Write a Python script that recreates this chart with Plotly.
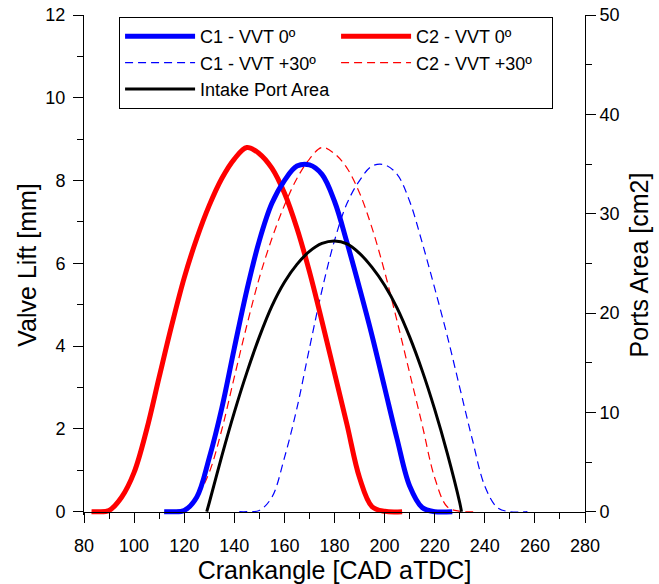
import plotly.graph_objects as go

# Crank angle [CAD aTDC] and valve lift [mm] for each cam / VVT setting
cad_c1_0 = [112, 115, 120, 125, 130, 135, 140, 145, 150, 155, 160, 165, 170, 175,
            180, 185, 190, 195, 200, 205, 210, 215, 220, 227]
lift_c1_0 = [0, 0, 0.03, 0.35, 1.3, 2.5, 3.95, 5.35, 6.55, 7.45, 8.0, 8.35, 8.38, 8.15,
             7.5, 6.5, 5.4, 4.25, 3.0, 1.75, 0.62, 0.1, 0, 0]

cad_c2_0 = [83, 85, 90, 95, 100, 105, 110, 115, 120, 125, 130, 135, 140, 145, 150,
            155, 160, 165, 170, 175, 180, 185, 190, 195, 200, 207]
lift_c2_0 = [0, 0, 0.03, 0.35, 0.95, 1.98, 3.25, 4.5, 5.65, 6.6, 7.4, 8.05, 8.52, 8.8, 8.65,
             8.3, 7.7, 6.85, 5.8, 4.6, 3.35, 2.1, 0.82, 0.12, 0.01, 0]

cad_c1_30 = [142, 145, 150, 155, 160, 165, 170, 175, 180, 185, 190, 195, 200, 205,
             210, 215, 220, 225, 230, 235, 240, 245, 250, 257]
lift_c1_30 = [0, 0, 0.03, 0.35, 1.3, 2.5, 3.95, 5.35, 6.55, 7.45, 8.0, 8.35, 8.38, 8.15,
              7.5, 6.5, 5.4, 4.25, 3.0, 1.75, 0.62, 0.1, 0, 0]

cad_c2_30 = [113, 115, 120, 125, 130, 135, 140, 145, 150, 155, 160, 165, 170, 175, 180,
             185, 190, 195, 200, 205, 210, 215, 220, 225, 230, 237]
lift_c2_30 = [0, 0, 0.03, 0.35, 0.95, 1.98, 3.25, 4.5, 5.65, 6.6, 7.4, 8.05, 8.52, 8.8, 8.65,
              8.3, 7.7, 6.85, 5.8, 4.6, 3.35, 2.1, 0.82, 0.12, 0.01, 0]

# Intake port open area [cm2]
cad_port = [129, 130, 135, 140, 145, 150, 155, 160, 165, 170, 175, 180, 185, 190, 195,
            200, 205, 210, 215, 220, 225, 230, 230.7]
area_port = [0, 0.9, 5.6, 10.0, 14.0, 17.6, 20.7, 23.1, 24.9, 26.2, 27.0, 27.25, 26.95, 26.0, 24.6,
             22.8, 20.5, 17.6, 14.2, 10.3, 5.9, 0.9, 0]

FONT = "Liberation Sans, Arial, sans-serif"
Y_PAD = 0.08  # small gap below zero so thick lines resting on 0 are not clipped
LIFT_MAX, AREA_MAX = 12, 50
SMOOTH = 1.0

fig = go.Figure()
fig.add_trace(go.Scatter(x=cad_port, y=area_port, yaxis="y2", mode="lines",
                         name="Intake Port Area", legendrank=5,
                         line=dict(color="black", width=3, shape="spline", smoothing=SMOOTH)))
fig.add_trace(go.Scatter(x=cad_c2_30, y=lift_c2_30, mode="lines", name="C2 - VVT +30º",
                         legendrank=4,
                         line=dict(color="#ff0000", width=1.2, dash="8px,5px",
                                   shape="spline", smoothing=SMOOTH)))
fig.add_trace(go.Scatter(x=cad_c1_30, y=lift_c1_30, mode="lines", name="C1 - VVT +30º",
                         legendrank=3,
                         line=dict(color="#0000ff", width=1.2, dash="8px,5px",
                                   shape="spline", smoothing=SMOOTH)))
fig.add_trace(go.Scatter(x=cad_c2_0, y=lift_c2_0, mode="lines", name="C2 - VVT 0º",
                         legendrank=2,
                         line=dict(color="#ff0000", width=5, shape="spline", smoothing=SMOOTH)))
fig.add_trace(go.Scatter(x=cad_c1_0, y=lift_c1_0, mode="lines", name="C1 - VVT 0º",
                         legendrank=1,
                         line=dict(color="#0000ff", width=5, shape="spline", smoothing=SMOOTH)))

axis_common = dict(
    showline=True, linecolor="black", linewidth=1, showgrid=False, zeroline=False,
    ticks="outside", ticklen=10, tickwidth=1, tickcolor="black", automargin=False,
    tickfont=dict(family=FONT, size=18, color="black"),
)

fig.update_layout(
    width=659, height=584,
    margin=dict(l=84, r=74, t=15, b=69),
    paper_bgcolor="white", plot_bgcolor="white",
    font=dict(family=FONT, color="black"),
    xaxis=dict(
        range=[80, 280], tick0=80, dtick=20,
        minor=dict(dtick=10, ticks="outside", ticklen=6, tickcolor="black", showgrid=False),
        anchor="free", position=Y_PAD / (LIFT_MAX + Y_PAD),
        ticklabelstandoff=8,
        title=dict(text="Crankangle [CAD aTDC]", font=dict(family=FONT, size=25), standoff=8),
        **axis_common,
    ),
    yaxis=dict(
        range=[-Y_PAD, LIFT_MAX], tick0=0, dtick=2,
        minor=dict(dtick=1, ticks="outside", ticklen=6, tickcolor="black", showgrid=False),
        ticklabelstandoff=4,
        title=dict(text="Valve Lift [mm]", font=dict(family=FONT, size=25), standoff=1),
        **axis_common,
    ),
    yaxis2=dict(
        overlaying="y", side="right",
        range=[-Y_PAD * AREA_MAX / LIFT_MAX, AREA_MAX], tick0=0, dtick=10,
        minor=dict(dtick=5, ticks="outside", ticklen=6, tickcolor="black", showgrid=False),
        title=dict(text="Ports Area [cm2]", font=dict(family=FONT, size=25), standoff=11),
        **axis_common,
    ),
    legend=dict(
        orientation="h", x=0.07, y=0.996, xanchor="left", yanchor="top",
        entrywidth=131, entrywidthmode="pixels", itemwidth=70,
        bgcolor="white", bordercolor="black", borderwidth=1,
        font=dict(family=FONT, size=18, color="black"),
        tracegroupgap=0,
    ),
    showlegend=True,
)

fig.write_html("out.html")
